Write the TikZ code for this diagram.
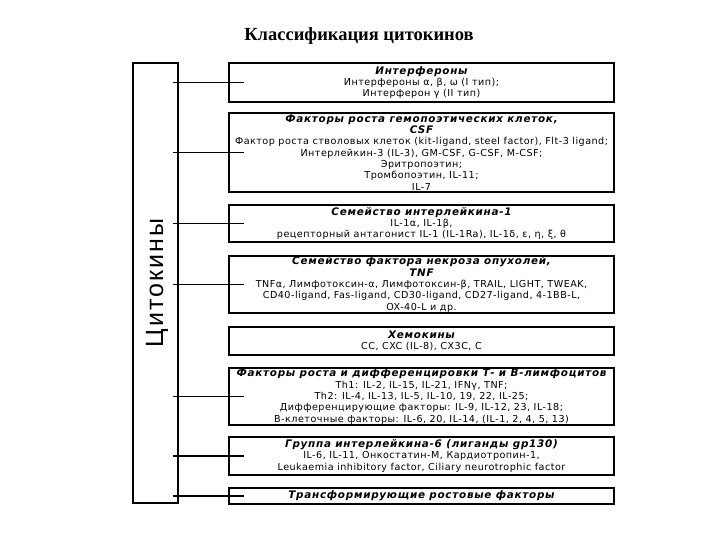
\documentclass[tikz,border=0pt]{standalone}
\usepackage{fontspec}
\setmainfont{DejaVu Sans}[LetterSpace=5]
\newfontfamily\grpfont{DejaVu Sans}[LetterSpace=7]
\newfontfamily\headfont{Liberation Serif}
\newfontfamily\sidefont{Liberation Sans}[LetterSpace=8]
\usetikzlibrary{positioning}
\newcommand{\famtitle}[1]{{\grpfont\bfseries\itshape\fontsize{10.4}{11.3}\selectfont #1}}

\begin{document}
\begin{tikzpicture}[x=1pt,y=-1pt,
 group/.style={draw,line width=1.1pt,minimum width=385pt,inner sep=0pt,align=center,font=\fontsize{9.6}{11.3}\selectfont},
 link/.style={line width=1.1pt,shorten <=-6pt,shorten >=-16pt}]
\useasboundingbox (0,0) rectangle (720,540);
\node[font=\headfont\bfseries\fontsize{18.5}{20}\selectfont] (title) at (359,36) {Классификация цитокинов};
\node[draw,line width=1.1pt,minimum width=45pt,minimum height=440pt] (cyto) at (155.5,283) {};
\node[rotate=90,font=\sidefont\fontsize{25}{28}\selectfont] (cytolabel) at (157,283) {Цитокины};
\node[group,minimum height=39pt] (ifn) at (421.5,82.5) {\famtitle{Интерфероны}\\Интерфероны α, β, ω (I тип);\\Интерферон γ (II тип)};
\node[group,minimum height=79pt] (csf) at (421.5,152.5) {\famtitle{Факторы роста гемопоэтических клеток,}\\\famtitle{CSF}\\Фактор роста стволовых клеток (kit-ligand, steel factor), Flt-3 ligand;\\Интерлейкин-3 (IL-3), GM-CSF, G-CSF, M-CSF;\\Эритропоэтин;\\Тромбопоэтин, IL-11;\\IL-7};
\node[group,minimum height=37pt] (ilone) at (421.5,223.5) {\famtitle{Семейство интерлейкина-1}\\IL-1α, IL-1β,\\рецепторный антагонист IL-1 (IL-1Ra), IL-1δ, ε, η, ξ, θ};
\node[group,minimum height=57pt] (tnf) at (421.5,284.5) {\famtitle{Семейство фактора некроза опухолей,}\\\famtitle{TNF}\\TNFα, Лимфотоксин-α, Лимфотоксин-β, TRAIL, LIGHT, TWEAK,\\CD40-ligand, Fas-ligand, CD30-ligand, CD27-ligand, 4-1BB-L,\\OX-40-L и др.};
\node[group,minimum height=28pt] (chemo) at (421.5,341) {\famtitle{Хемокины}\\CC, CXC (IL-8), CX3C, C};
\node[group,minimum height=57pt] (lympho) at (421.5,396.5) {\famtitle{Факторы роста и дифференцировки Т- и В-лимфоцитов}\\Th1: IL-2, IL-15, IL-21, IFNγ, TNF;\\Th2: IL-4, IL-13, IL-5, IL-10, 19, 22, IL-25;\\Дифференцирующие факторы: IL-9, IL-12, 23, IL-18;\\В-клеточные факторы: IL-6, 20, IL-14, (IL-1, 2, 4, 5, 13)};
\node[group,minimum height=38pt] (ilsix) at (421.5,456) {\famtitle{Группа интерлейкина-6 (лиганды gp130)}\\IL-6, IL-11, Онкостатин-М, Кардиотропин-1,\\Leukaemia inhibitory factor, Ciliary neurotrophic factor};
\node[group,minimum height=16pt] (tgf) at (421.5,496) {\famtitle{Трансформирующие ростовые факторы}};
\draw[link] (cyto.east |- ifn.west) -- (ifn.west);
\draw[link] (cyto.east |- csf.west) -- (csf.west);
\draw[link] (cyto.east |- ilone.west) -- (ilone.west);
\draw[link] (cyto.east |- tnf.west) -- (tnf.west);
\draw[link] (cyto.east |- lympho.west) -- (lympho.west);
\draw[link] (cyto.east |- ilsix.west) -- (ilsix.west);
\draw[link] (cyto.east |- tgf.west) -- (tgf.west);
\end{tikzpicture}
\end{document}
